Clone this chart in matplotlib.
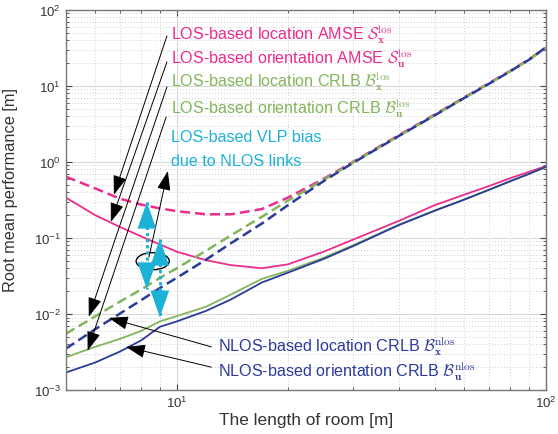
import numpy as np
import matplotlib
matplotlib.use('Agg')
import matplotlib.pyplot as plt
from matplotlib.patches import Ellipse

plt.rcParams['font.family'] = ['Liberation Sans', 'DejaVu Sans']
plt.rcParams['mathtext.fontset'] = 'cm'

# room length [m]
room_len = [5, 6, 7, 8, 9, 10, 12, 14, 17, 20, 25, 30, 40, 50, 60, 70, 80, 90, 100]

# LOS-based AMSE
amse_loc_los = [0.64, 0.45, 0.33, 0.275, 0.245, 0.225, 0.205, 0.205, 0.24, 0.34, 0.6,
                1.0, 2.25, 4.2, 7.0, 10.8, 15.7, 22.3, 32.0]
amse_ori_los = [0.34, 0.20, 0.14, 0.105, 0.082, 0.066, 0.051, 0.044, 0.040, 0.045, 0.066,
                0.095, 0.168, 0.27, 0.37, 0.48, 0.61, 0.74, 0.88]
# LOS-based CRLB
crlb_loc_los = [0.0055, 0.0093, 0.0145, 0.021, 0.030, 0.040, 0.068, 0.108, 0.19, 0.31, 0.58,
                0.98, 2.2, 4.1, 6.9, 10.6, 15.5, 22.0, 31.5]
crlb_ori_los = [0.0027, 0.0037, 0.0047, 0.0060, 0.0080, 0.0094, 0.0125, 0.018, 0.029, 0.037,
                0.055, 0.080, 0.15, 0.23, 0.32, 0.43, 0.56, 0.70, 0.86]
# NLOS-based CRLB
crlb_loc_nlos = [0.0035, 0.0063, 0.0101, 0.0152, 0.022, 0.030, 0.052, 0.085, 0.155, 0.27, 0.56,
                 0.97, 2.2, 4.1, 6.9, 10.6, 15.5, 22.0, 32.0]
crlb_ori_nlos = [0.0017, 0.0023, 0.0032, 0.0045, 0.0068, 0.0080, 0.0110, 0.0155, 0.026, 0.035,
                 0.053, 0.078, 0.148, 0.228, 0.318, 0.428, 0.555, 0.695, 0.86]

pink = '#EC2C8D'
green = '#82B55C'
blue = '#2C3A98'
cyan = '#1CB2D8'

fig = plt.figure(figsize=(5.58, 4.35), dpi=100)
ax = fig.add_axes([0.118, 0.101, 0.860, 0.874])

dash = (4, 2)
ax.plot(room_len, amse_loc_los, color=pink, lw=1.8, dashes=dash)
ax.plot(room_len, amse_ori_los, color=pink, lw=1.3)
ax.plot(room_len, crlb_loc_los, color=green, lw=1.8, dashes=dash)
ax.plot(room_len, crlb_ori_los, color=green, lw=1.3)
ax.plot(room_len, crlb_loc_nlos, color=blue, lw=1.8, dashes=dash)
ax.plot(room_len, crlb_ori_nlos, color=blue, lw=1.3)

ax.set_xscale('log')
ax.set_yscale('log')
ax.set_xlim(5, 100)
ax.set_ylim(1e-3, 1e2)

ax.grid(True, which='major', color='#d9d9d9', lw=0.8, ls='-')
ax.grid(True, which='minor', color='#c0c0c0', lw=0.6, ls=(0, (1, 2.5)))
ax.tick_params(which='both', direction='in', top=True, right=True, color='#444444')
ax.tick_params(which='major', length=4, labelsize=9.5, labelcolor='#333333')
ax.tick_params(which='minor', length=2)
for s in ax.spines.values():
    s.set_color('#777777')
    s.set_linewidth(1.0)
ax.set_axisbelow(True)

ax.set_xlabel('The length of room [m]', fontsize=12.4, color='#333333', labelpad=1)
ax.set_ylabel('Root mean performance [m]', fontsize=11.8, color='#333333')
ax.yaxis.set_label_coords(-0.1, 0.529)

# labels
fs = 11.6
labels = [
    (0.219, 0.936, r'LOS-based location AMSE $\mathcal{S}_{\mathbf{x}}^{\mathrm{los}}$', pink),
    (0.219, 0.873, r'LOS-based orientation AMSE $\mathcal{S}_{\mathbf{u}}^{\mathrm{los}}$', pink),
    (0.219, 0.812, r'LOS-based location CRLB $\mathcal{B}_{\mathbf{x}}^{\mathrm{los}}$', green),
    (0.219, 0.741, r'LOS-based orientation CRLB $\mathcal{B}_{\mathbf{u}}^{\mathrm{los}}$', green),
    (0.219, 0.668, 'LOS-based VLP bias', cyan),
    (0.219, 0.603, 'due to NLOS links', cyan),
    (0.317, 0.116, r'NLOS-based location CRLB $\mathcal{B}_{\mathbf{x}}^{\mathrm{nlos}}$', blue),
    (0.317, 0.050, r'NLOS-based orientation CRLB $\mathcal{B}_{\mathbf{u}}^{\mathrm{nlos}}$', blue),
]
for x, y, t, c in labels:
    ax.text(x, y, t, transform=ax.transAxes, fontsize=fs, color=c, va='center', ha='left')

# black arrows: (tip in data, tail in data)
black = dict(arrowstyle='-|>,head_length=0.8,head_width=0.28', color='black',
             lw=0.7, mutation_scale=15, shrinkA=0, shrinkB=0)
arrows = [
    ((6.75, 0.37), (9.4, 45.5)),
    ((6.62, 0.162), (9.4, 20.7)),
    ((5.77, 0.0092), (9.4, 9.7)),
    ((5.73, 0.0033), (9.35, 3.9)),
    ((9.45, 0.76), (8.4, 0.056)),
    ((6.54, 0.0089), (12.4, 0.0037)),
    ((7.28, 0.0037), (12.4, 0.0020)),
]
for tip, tail in arrows:
    ax.annotate('', xy=tip, xytext=tail, arrowprops=black)

# cyan double arrows for the bias
for xb, top, bot in [(8.29, 0.298, 0.0213), (8.99, 0.097, 0.0091)]:
    ax.plot([xb, xb], [top, bot], color=cyan, lw=2.2, ls=(0, (1, 1)))
    head = dict(arrowstyle='-|>,head_length=1.2,head_width=0.42', color=cyan,
                lw=0, mutation_scale=16, shrinkA=0, shrinkB=0)
    ax.annotate('', xy=(xb, top), xytext=(xb, top / 1.6), arrowprops=head)
    ax.annotate('', xy=(xb, bot), xytext=(xb, bot * 1.6), arrowprops=head)

ax.add_patch(Ellipse((0.181, 0.339), 0.069, 0.045, transform=ax.transAxes,
                     fill=False, ec='black', lw=1.0))

fig.savefig('out.png', dpi=100)
